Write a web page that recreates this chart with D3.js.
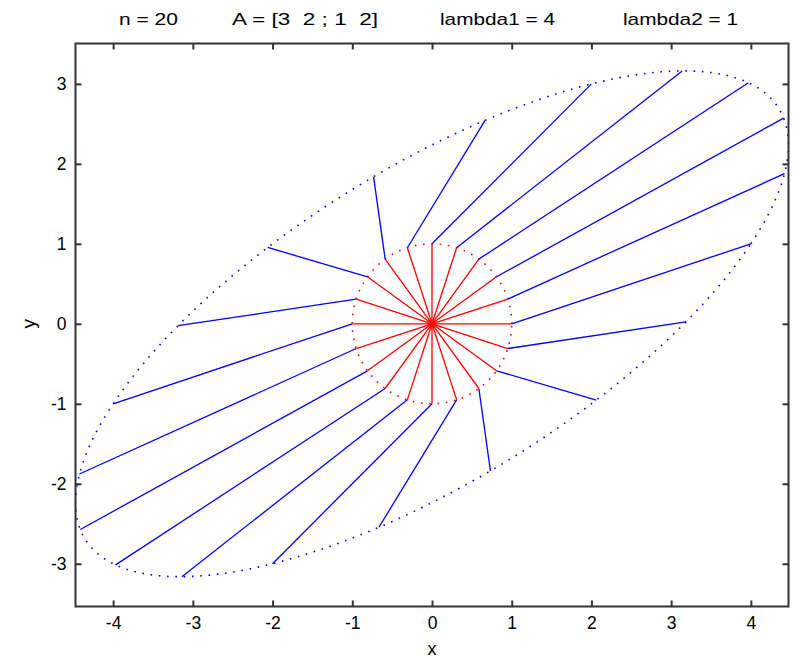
<!DOCTYPE html>
<html>
<head>
<meta charset="utf-8">
<script src="https://cdn.jsdelivr.net/npm/d3@7"></script>
<style>
  html, body { margin: 0; padding: 0; background: #fff; }
  svg { display: block; }
  text { font-family: "Liberation Sans", Arial, sans-serif; fill: #000; }
</style>
</head>
<body>
<script>
// Number of unit vectors and the matrix they are mapped through
const nVectors = 20;
const matrixA = [[3, 2], [1, 2]];
const eigenvalues = [4, 1];

// Axis ticks
const xTicks = [-4, -3, -2, -1, 0, 1, 2, 3, 4];
const yTicks = [-3, -2, -1, 0, 1, 2, 3];

// Title pieces: label, centre x, drawn width
const titleParts = [
  { text: "n = " + nVectors, cx: 148.5, w: 59 },
  { text: "A = [" + matrixA[0][0] + "  " + matrixA[0][1] + " ; " + matrixA[1][0] + "  " + matrixA[1][1] + "]", cx: 305, w: 146 },
  { text: "lambda1 = " + eigenvalues[0], cx: 497.5, w: 115 },
  { text: "lambda2 = " + eigenvalues[1], cx: 680.5, w: 115 }
];

const W = 794, H = 661;
const box = { left: 75.5, right: 788.5, top: 43.5, bottom: 606.5 };

const svg = d3.select("body").append("svg").attr("width", W).attr("height", H);

// Tight x-limits (extent of x + A x), equal aspect for y
const xMax = Math.sqrt(20);
const x = d3.scaleLinear().domain([-xMax, xMax]).range([box.left, box.right]);
const y = d3.scaleLinear().domain([-3.535, 3.505]).range([box.bottom, box.top]);

svg.append("defs").append("clipPath").attr("id", "plotClip")
  .append("rect")
  .attr("x", box.left).attr("y", box.top)
  .attr("width", box.right - box.left).attr("height", box.bottom - box.top);

const plot = svg.append("g").attr("clip-path", "url(#plotClip)");

const mul = (M, v) => [M[0][0] * v[0] + M[0][1] * v[1], M[1][0] * v[0] + M[1][1] * v[1]];

// Unit vectors and the tips of A x drawn from each vector's end
const vectors = d3.range(nVectors).map(k => {
  const t = 2 * Math.PI * k / nVectors;
  const v = [Math.cos(t), Math.sin(t)];
  const Av = mul(matrixA, v);
  return { v, tip: [v[0] + Av[0], v[1] + Av[1]] };
});

// Dotted unit circle and its image curve
const fine = d3.range(0, 361).map(d => d * Math.PI / 180);
const line = d3.line().x(d => x(d[0])).y(d => y(d[1]));
const circlePts = fine.map(t => [Math.cos(t), Math.sin(t)]);
const ellipsePts = circlePts.map(v => { const a = mul(matrixA, v); return [v[0] + a[0], v[1] + a[1]]; });

plot.append("path").datum(ellipsePts).attr("d", line)
  .attr("fill", "none").attr("stroke", "#0000ff").attr("stroke-width", 1.6)
  .attr("stroke-dasharray", "1.6 6.7");

plot.append("path").datum(circlePts).attr("d", line)
  .attr("fill", "none").attr("stroke", "#ff0000").attr("stroke-width", 1.6)
  .attr("stroke-dasharray", "1.6 6.7");

// Blue segments: from x to x + A x
plot.selectAll("line.img").data(vectors).enter().append("line")
  .attr("class", "img")
  .attr("x1", d => x(d.v[0])).attr("y1", d => y(d.v[1]))
  .attr("x2", d => x(d.tip[0])).attr("y2", d => y(d.tip[1]))
  .attr("stroke", "#0000ff").attr("stroke-width", 1.3);

// Red radii: from origin to x
plot.selectAll("line.rad").data(vectors).enter().append("line")
  .attr("class", "rad")
  .attr("x1", x(0)).attr("y1", y(0))
  .attr("x2", d => x(d.v[0])).attr("y2", d => y(d.v[1]))
  .attr("stroke", "#ff0000").attr("stroke-width", 1.3);

// Axes box with inward ticks
const axisColor = "#333";
const frame = svg.append("g");
frame.append("rect")
  .attr("x", box.left).attr("y", box.top)
  .attr("width", box.right - box.left).attr("height", box.bottom - box.top)
  .attr("fill", "none").attr("stroke", axisColor).attr("stroke-width", 2);

// Plain hyphen for negative tick labels
const tickFmt = d => (d < 0 ? "-" : "") + Math.abs(d);

const tickLen = 6;
const axB = d3.axisBottom(x).tickValues(xTicks).tickSizeInner(-tickLen).tickSizeOuter(0).tickPadding(10).tickFormat(tickFmt);
const axT = d3.axisTop(x).tickValues(xTicks).tickSizeInner(-tickLen).tickSizeOuter(0).tickFormat("");
const axL = d3.axisLeft(y).tickValues(yTicks).tickSizeInner(-tickLen).tickSizeOuter(0).tickPadding(9).tickFormat(tickFmt);
const axR = d3.axisRight(y).tickValues(yTicks).tickSizeInner(-tickLen).tickSizeOuter(0).tickFormat("");

function styleAxis(g) {
  g.select(".domain").remove();
  g.selectAll(".tick line").attr("stroke", axisColor).attr("stroke-width", 2);
  g.selectAll(".tick text").attr("fill", "#000").style("font-size", "17.5px")
    .style("font-family", '"Liberation Sans", Arial, sans-serif');
}

svg.append("g").attr("transform", `translate(0,${box.bottom})`).call(axB).call(styleAxis);
svg.append("g").attr("transform", `translate(0,${box.top})`).call(axT).call(styleAxis);
svg.append("g").attr("transform", `translate(${box.left},0)`).call(axL).call(styleAxis);
svg.append("g").attr("transform", `translate(${box.right},0)`).call(axR).call(styleAxis);

// Axis labels
svg.append("text").attr("x", x(0)).attr("y", 655).attr("text-anchor", "middle")
  .style("font-size", "18px").text("x");
svg.append("text").attr("transform", `translate(35,${y(0)}) rotate(-90)`).attr("text-anchor", "middle")
  .style("font-size", "19px").text("y");

// Title
svg.selectAll("text.title").data(titleParts).enter().append("text")
  .attr("class", "title")
  .attr("x", d => d.cx - d.w / 2).attr("y", 25)
  .attr("textLength", d => d.w).attr("lengthAdjust", "spacingAndGlyphs")
  .style("font-size", "17px").style("white-space", "pre")
  .attr("xml:space", "preserve")
  .text(d => d.text);
</script>
</body>
</html>
